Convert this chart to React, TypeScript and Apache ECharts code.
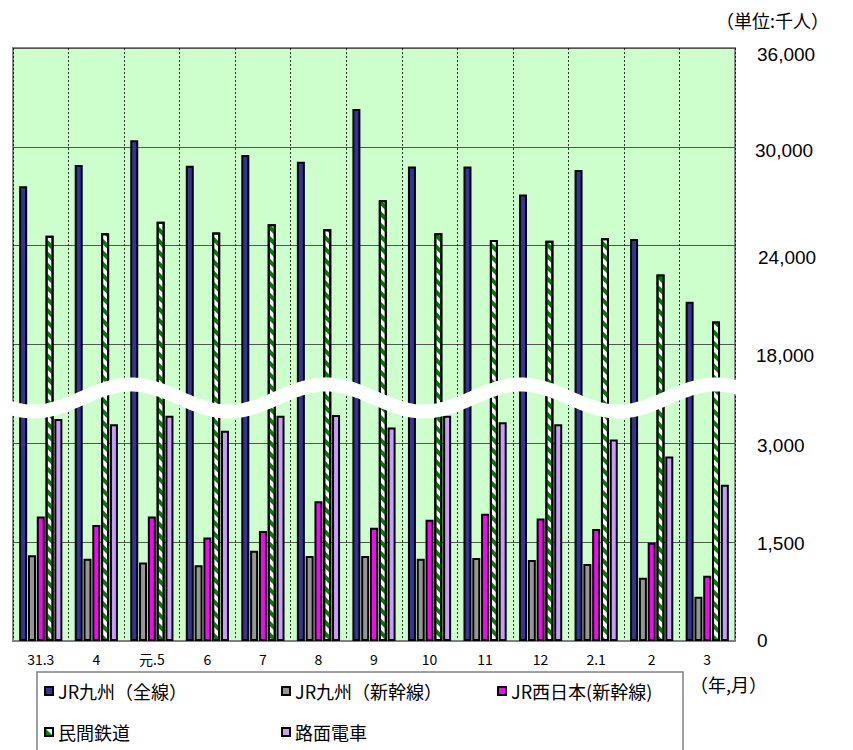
import React, { useEffect, useRef } from "react";
import * as echarts from "echarts";

// ---- data (thousand persons) ----
const categories = ["31.3", "4", "元.5", "6", "7", "8", "9", "10", "11", "12", "2.1", "2", "3"];
const seriesNames = ["JR九州（全線）", "JR九州（新幹線）", "JR西日本(新幹線)", "民間鉄道", "路面電車"];
const jrKyushuAll = [27600, 28900, 30400, 28850, 29500, 29100, 32300, 28800, 28800, 27100, 28600, 24400, 20600];
const jrKyushuShinkansen = [1300, 1250, 1190, 1150, 1370, 1290, 1290, 1250, 1260, 1230, 1170, 960, 670];
const jrWestShinkansen = [1890, 1760, 1890, 1570, 1670, 2120, 1720, 1840, 1930, 1860, 1700, 1490, 990];
const privateRailways = [24600, 24750, 25450, 24800, 25300, 25000, 26750, 24750, 24350, 24300, 24450, 22250, 19400];
const trams = [3370, 3290, 3420, 3190, 3420, 3430, 3240, 3420, 3320, 3290, 3060, 2800, 2370];
const yTickLabels = ["0", "1,500", "3,000", "18,000", "24,000", "30,000", "36,000"];

// broken axis: lower part 0..(break) with 1,500 per step, upper part from 18,000 with 6,000 per step
const toAxis = (v: number) => (v >= 10000 ? 3 + (v - 18000) / 6000 : v / 1500);

const FONT = "'Liberation Sans', 'Noto Sans CJK JP', sans-serif";
const JP_FONT = "'Noto Sans CJK JP', 'Liberation Sans', sans-serif";

export default function App() {
  const ref = useRef<HTMLDivElement>(null);
  useEffect(() => {
    if (!ref.current) return;
    const chart = echarts.init(ref.current, undefined, { renderer: "svg" });

    const colors = ["#333399", "#969696", "#FF00FF", "#FFFFFF", "#CC99FF"];
    const dataSets = [jrKyushuAll, jrKyushuShinkansen, jrWestShinkansen, privateRailways, trams];

    const series = seriesNames.map((name, i) => {
      const itemStyle: any = { color: colors[i], borderColor: "#000", borderWidth: 2 };
      if (i === 3) {
        itemStyle.decal = {
          symbol: "rect",
          symbolSize: 1,
          color: "#008000",
          dashArrayX: [1, 0],
          dashArrayY: [4, 4],
          rotation: Math.PI / 4,
        };
      }
      return {
        name,
        type: "bar",
        data: dataSets[i].map(toAxis),
        barWidth: 8,
        barGap: "10%",
        itemStyle,
      };
    });

    const legendPos = [
      [44, 682],
      [281, 682],
      [497, 682],
      [44, 723],
      [281, 723],
    ];

    chart.setOption({
      animation: false,
      backgroundColor: "#fff",
      textStyle: { fontFamily: FONT },
      grid: {
        left: 13,
        right: 118,
        top: 48,
        bottom: 109,
        show: true,
        backgroundColor: "#CCFFCC",
        borderColor: "#888",
        borderWidth: 2,
      },
      xAxis: {
        type: "category",
        data: categories,
        axisLine: { lineStyle: { color: "#808080", width: 2 } },
        axisTick: { show: false },
        axisLabel: { color: "#000", fontSize: 14, margin: 11, fontFamily: JP_FONT },
        splitLine: { show: true, interval: 0, lineStyle: { color: "#000", type: [2, 2], width: 0.8 } },
      },
      yAxis: {
        type: "value",
        position: "right",
        min: 0,
        max: 6,
        interval: 1,
        axisLine: { show: false },
        axisTick: { show: false },
        axisLabel: { show: false },
        splitLine: { lineStyle: { color: "#555", width: 1 } },
      },
      legend: seriesNames.map((n, i) => ({
        data: [n],
        left: legendPos[i][0],
        top: legendPos[i][1],
        padding: 0,
        itemWidth: 8,
        itemHeight: 8,
        icon: "rect",
        textStyle: { fontSize: 18, color: "#000", fontFamily: JP_FONT },
      })),
      series,
    });

    // y tick labels placed through the axis scale, with the small shifts of the original
    const shifts = [
      [2, -1],
      [2, 1],
      [2, 2],
      [1, 11],
      [3, 12],
      [0, 4],
      [2, 6],
    ];
    const labelX = 853 - 118 + 20;
    const yLabels = yTickLabels.map((t, i) => {
      const y = chart.convertToPixel({ yAxisIndex: 0 }, i) as number;
      return {
        type: "text",
        x: labelX + shifts[i][0],
        y: y + shifts[i][1],
        z: 10,
        style: { text: t, font: `19px ${FONT}`, fill: "#000", verticalAlign: "middle", align: "left" },
      };
    });

    // white wavy break band
    const pts: number[][] = [];
    for (let x = 4; x <= 744; x += 2) {
      pts.push([x, 398 - 13.5 * Math.cos((2 * Math.PI * (x - 131)) / 195)]);
    }

    chart.setOption({
      graphic: [
        {
          type: "polyline",
          z: 100,
          shape: { points: pts },
          style: { stroke: "#fff", lineWidth: 14, fill: null },
        },
        {
          type: "rect",
          z: 1,
          shape: { x: 37, y: 672, width: 646, height: 100 },
          style: { fill: "none", stroke: "#808080", lineWidth: 1.5 },
        },
        {
          type: "text",
          x: 716,
          y: 20,
          style: { text: "（単位:千人）", font: `18px ${JP_FONT}`, fill: "#000", verticalAlign: "middle" },
        },
        {
          type: "text",
          x: 690,
          y: 684,
          style: { text: "（年,月）", font: `18px ${JP_FONT}`, fill: "#000", verticalAlign: "middle" },
        },
        ...yLabels,
      ],
    });

    return () => chart.dispose();
  }, []);
  return <div ref={ref} style={{ position: "fixed", left: 0, top: 0, width: 853, height: 750 }} />;
}
